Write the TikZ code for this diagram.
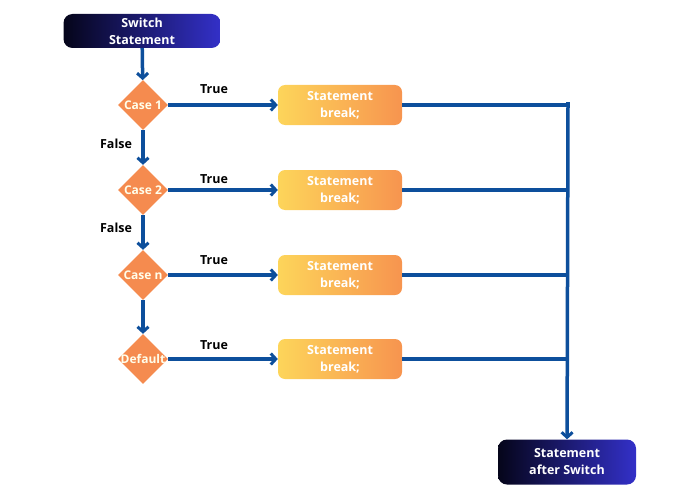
\documentclass[tikz,border=0pt]{standalone}
\usepackage{fontspec}
\setmainfont{Open Sans}
\usetikzlibrary{shapes.geometric,arrows.meta}
\definecolor{ln}{HTML}{0D4F9C}
\definecolor{dk}{HTML}{05051A}
\definecolor{bl}{HTML}{3330C8}
\definecolor{yl}{HTML}{FDD55A}
\definecolor{og}{HTML}{F7944F}
\definecolor{dia}{HTML}{F58B4F}
\begin{document}
\begin{tikzpicture}[x=1pt,y=-1pt,
  term/.style={rounded corners=9pt,left color=dk,right color=bl,text=white,font=\bfseries\fontsize{12.5}{17}\selectfont,align=center,inner sep=0},
  stm/.style={rounded corners=7pt,left color=yl,right color=og,text=white,font=\bfseries\fontsize{12.5}{17}\selectfont,align=center,minimum width=124pt,minimum height=40pt,inner sep=0},
  dia/.style={diamond,fill=dia,minimum width=50pt,minimum height=50pt,inner sep=0},
  dtx/.style={text=white!92!yellow,font=\bfseries\fontsize{12}{14}\selectfont},
  lab/.style={font=\bfseries\fontsize{12.5}{15}\selectfont},
  con/.style={draw=ln,line width=3.5pt},
  arr/.style={con,-{Straight Barb[length=5pt,width=11pt,line width=3pt]}}]
\useasboundingbox (0,0) rectangle (700,500);
\node[term,minimum width=157pt,minimum height=34pt] (start) at (142,31) {Switch\\Statement};
\node[dia] (c1) at (143,105) {}; \node[dtx] at (c1) {Case 1};
\node[dia] (c2) at (143,190) {}; \node[dtx] at (c2) {Case 2};
\node[dia] (cn) at (143,275) {}; \node[dtx] at (cn) {Case n};
\node[dia] (cd) at (143,359) {}; \node[dtx] at (cd) {Default};
\node[stm] (s1) at (340,105) {Statement\\break;};
\node[stm] (s2) at (340,190) {Statement\\break;};
\node[stm] (s3) at (340,275) {Statement\\break;};
\node[stm] (s4) at (340,359) {Statement\\break;};
\node[term,minimum width=138pt,minimum height=45pt] (end) at (567,462) {Statement\\after Switch};
\coordinate (j1) at (568,102);
\coordinate (j2) at (568,190);
\coordinate (j3) at (568,275);
\coordinate (j4) at (568,359);
\draw[arr] (start) -- (c1);
\draw[arr] (c1) -- (c2);
\draw[arr] (c2) -- (cn);
\draw[arr] (cn) -- (cd);
\draw[arr] (c1) -- (s1);
\draw[arr] (c2) -- (s2);
\draw[arr] (cn) -- (s3);
\draw[arr] (cd) -- (s4);
\draw[con] (s1.east) -- (s1.east -| j1) -- (j1);
\draw[con] (s2) -- (j2);
\draw[con] (s3) -- (j3);
\draw[con] (s4) -- (j4);
\draw[arr] ([yshift=-1.75pt]j1) -- (end);
\node[lab] (t1) at (214,89) {True};
\node[lab] (t2) at (214,179) {True};
\node[lab] (t3) at (214,260) {True};
\node[lab] (t4) at (214,345) {True};
\node[lab] (f1) at (116,144) {False};
\node[lab] (f2) at (116,228) {False};
\end{tikzpicture}
\end{document}
